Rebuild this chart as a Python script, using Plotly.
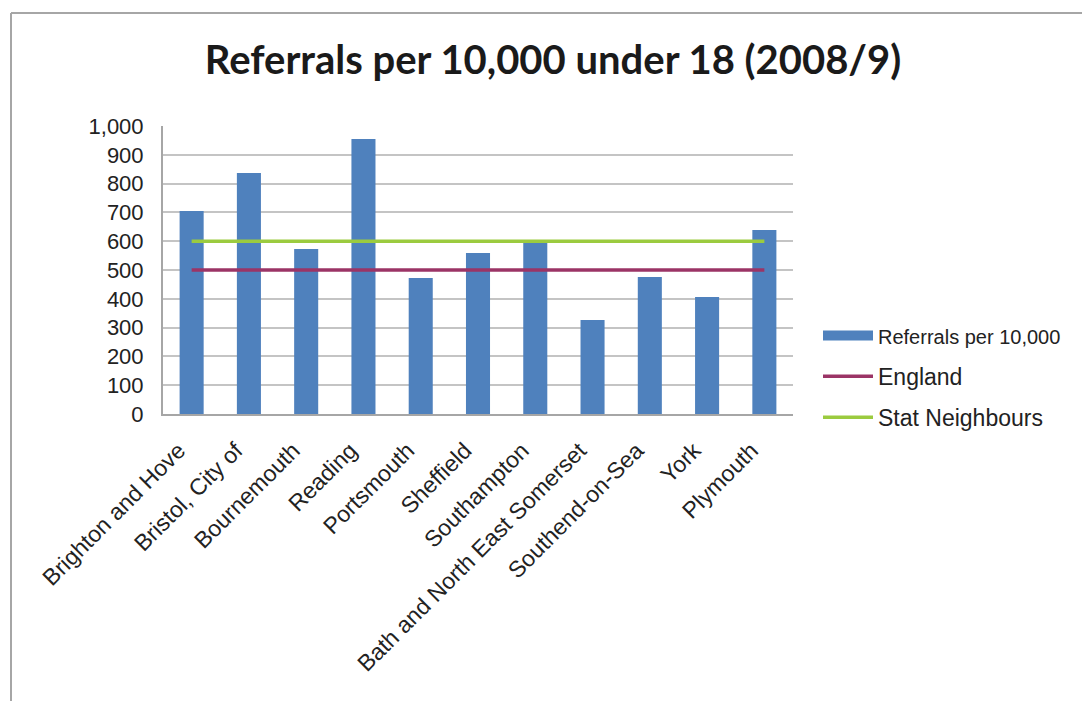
import plotly.graph_objects as go

# Local authorities and referral rates per 10,000 children under 18 (2008/9)
areas = [
    "Brighton and Hove", "Bristol, City of", "Bournemouth", "Reading",
    "Portsmouth", "Sheffield", "Southampton", "Bath and North East Somerset",
    "Southend-on-Sea", "York", "Plymouth",
]
referrals = [705, 837, 573, 955, 472, 559, 602, 326, 476, 406, 639]
england = [500] * len(areas)
stat_neighbours = [600] * len(areas)

y_ticks = [0, 100, 200, 300, 400, 500, 600, 700, 800, 900, 1000]
y_tick_text = ["0", "100", "200", "300", "400", "500", "600", "700", "800", "900", "1,000"]

W, H = 1082, 701
L, R, T, B = 163, 793, 126, 414  # plot area in pixels

font_main = "Liberation Sans, Arial, sans-serif"
bar_color = "#4F81BD"

fig = go.Figure()
fig.add_trace(go.Bar(
    x=areas, y=referrals, name="Referrals per 10,000",
    marker=dict(color=bar_color, line=dict(width=0)),
    showlegend=False,
))
# legend entry for the bars drawn as a wide block
fig.add_trace(go.Scatter(
    x=[None], y=[None],
    name='<span style="font-size:20px">Referrals per 10,000</span>',
    mode="lines", line=dict(color=bar_color, width=15), legendgroup="a",
))
fig.add_trace(go.Scatter(
    x=areas, y=england, name="England", mode="lines",
    line=dict(color="#9B3466", width=3.5), legendgroup="b",
))
fig.add_trace(go.Scatter(
    x=areas, y=stat_neighbours, name="Stat Neighbours", mode="lines",
    line=dict(color="#9BCB3F", width=3.5), legendgroup="c",
))

def px_x(p):
    return (p - L) / (R - L)

def px_y(p):
    return (B - p) / (B - T)

shapes = [
    # outer chart frame (top and left edges)
    dict(type="line", xref="paper", yref="paper",
         x0=px_x(11), x1=px_x(W + 5), y0=px_y(13), y1=px_y(13),
         line=dict(color="#A6A6A6", width=2)),
    dict(type="line", xref="paper", yref="paper",
         x0=px_x(11), x1=px_x(11), y0=px_y(13), y1=px_y(H + 5),
         line=dict(color="#A6A6A6", width=2)),
]

fig.update_layout(
    width=W, height=H,
    margin=dict(l=L, r=W - R, t=T, b=H - B, autoexpand=False),
    paper_bgcolor="white", plot_bgcolor="white",
    bargap=0.58,
    showlegend=True,
    title=dict(
        text="<b>Referrals per 10,000 under 18 (2008/9)</b>",
        x=553 / W, xanchor="center", y=1 - 60 / H, yanchor="middle",
        font=dict(family="Lato, Open Sans, sans-serif", size=40, color="#1a1a1a"),
    ),
    legend=dict(
        x=px_x(818), xanchor="left", y=px_y(314), yanchor="top",
        font=dict(family=font_main, size=23, color="#222222"),
        tracegroupgap=8, bgcolor="rgba(0,0,0,0)",
        itemwidth=50,
    ),
    shapes=shapes,
    font=dict(family=font_main, color="#222222"),
)

fig.update_xaxes(
    type="category", tickangle=-45,
    tickfont=dict(family=font_main, size=23, color="#222222"),
    showline=True, linecolor="#A6A6A6", linewidth=2,
    showgrid=False, ticks="", automargin=False,
    ticklabelshift=-13, ticklabelstandoff=12,
)
fig.update_yaxes(
    range=[0, 1000], tickvals=y_ticks, ticktext=y_tick_text,
    tickfont=dict(family=font_main, size=22, color="#222222"),
    showgrid=True, gridcolor="#C4C4C4", gridwidth=1.5,
    showline=True, linecolor="#A6A6A6", linewidth=2,
    zeroline=False, ticks="", ticklabelstandoff=13, automargin=False,
)

fig.write_html("out.html")
